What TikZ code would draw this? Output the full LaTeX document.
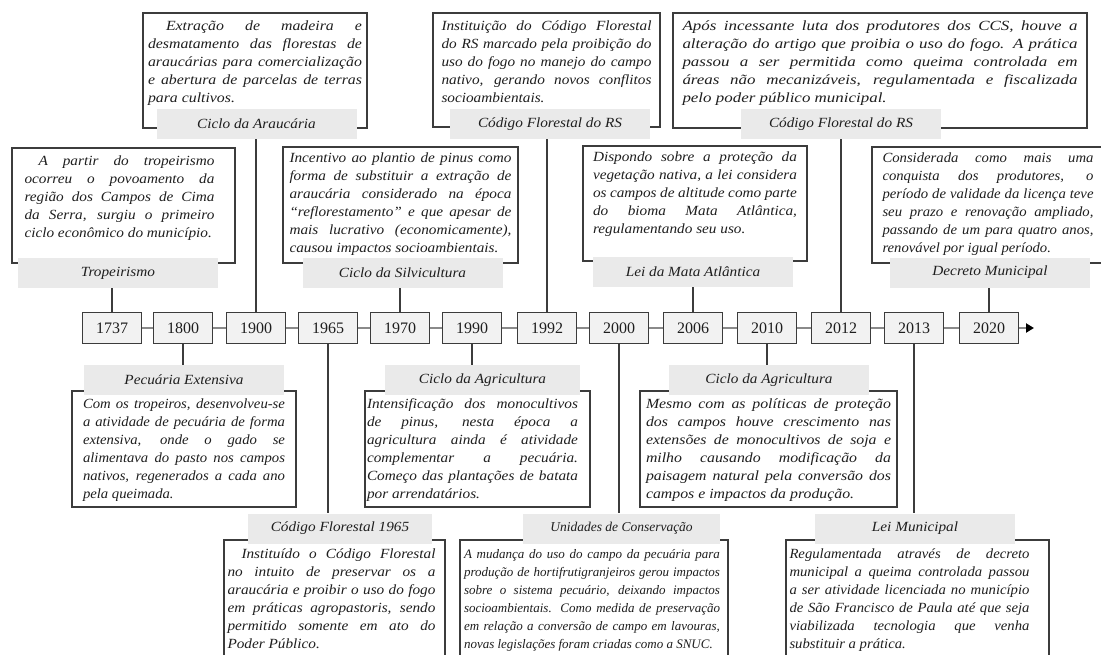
\documentclass[tikz,border=0pt]{standalone}
\usepackage{fontspec}
\setmainfont{Liberation Serif}
\newfontfamily\notefont[FakeStretch=1.09]{Liberation Serif}
\newfontfamily\notefontwide[FakeStretch=1.21]{Liberation Serif}
\newfontfamily\notefontbroad[FakeStretch=1.13]{Liberation Serif}
\newfontfamily\notefontmid[FakeStretch=1.05]{Liberation Serif}
\newfontfamily\notefontplain{Liberation Serif}
\usetikzlibrary{arrows.meta,positioning}
\definecolor{ink}{HTML}{1E1E1E}
\definecolor{frame}{HTML}{3C3C3C}
\definecolor{tagfill}{HTML}{EAEAEA}
\definecolor{yearfill}{HTML}{F2F2F2}
\definecolor{link}{HTML}{8A8A8A}
\tikzset{
  yearbox/.style={rectangle,draw=frame,line width=1.2pt,fill=yearfill,text=ink,
    font=\fontsize{16}{18}\selectfont,minimum width=59pt,minimum height=31pt,inner sep=0pt},
  notebox/.style={rectangle,draw=frame,line width=1.3pt,fill=white,inner sep=0pt},
  notetext/.style={text=ink,align=justify,inner sep=0pt,anchor=north,
    font=\fontsize{14}{18}\selectfont\notefont\itshape,
    execute at begin node=\rule{0pt}{14pt}},
  tagbox/.style={rectangle,fill=tagfill,text=ink,inner sep=0pt,
    minimum width=200pt,minimum height=30pt,
    font=\fontsize{14}{18}\selectfont\notefont\itshape},
  tlline/.style={line width=1.1pt,color=frame},
  tllink/.style={line width=2.6pt,color=link},
  tlarr/.style={-{Triangle[length=8pt,width=9pt,color=black]},line width=2.6pt,color=link},
}

\begin{document}
\begin{tikzpicture}[x=1pt,y=-1pt]
  \useasboundingbox (0,0) rectangle (1101,654);
  \fill[white] (0,0) rectangle (1101,654);
  \clip (0,0) rectangle (1101,654);

  % timeline
  \node[yearbox] (y1737) at (112,328) {1737};
  \node[yearbox] (y1800) at (183,328) {1800};
  \node[yearbox] (y1900) at (256,328) {1900};
  \node[yearbox] (y1965) at (328,328) {1965};
  \node[yearbox] (y1970) at (400,328) {1970};
  \node[yearbox] (y1990) at (472,328) {1990};
  \node[yearbox] (y1992) at (547,328) {1992};
  \node[yearbox] (y2000) at (619,328) {2000};
  \node[yearbox] (y2006) at (693,328) {2006};
  \node[yearbox] (y2010) at (767,328) {2010};
  \node[yearbox] (y2012) at (841,328) {2012};
  \node[yearbox] (y2013) at (914,328) {2013};
  \node[yearbox] (y2020) at (989,328) {2020};
  \draw[tllink] (y1737) -- (y1800) (y1800) -- (y1900) (y1900) -- (y1965)
    (y1965) -- (y1970) (y1970) -- (y1990) (y1990) -- (y1992) (y1992) -- (y2000)
    (y2000) -- (y2006) (y2006) -- (y2010) (y2010) -- (y2012) (y2012) -- (y2013)
    (y2013) -- (y2020);
  \coordinate (tlend) at (1034,328);
  \draw[tlarr] (y2020) -- (tlend);

  % upper row
  \node[notebox,minimum width=224pt,minimum height=115pt] (boxAra) at (255,70.5) {};
  \node[notetext,text width=214pt,below=4pt of boxAra.north,
    font=\fontsize{14}{18}\selectfont\notefontbroad\itshape] (txtAra)
    {\hspace*{18pt}Extração de madeira e\linebreak desmatamento das florestas de\linebreak araucárias para comercialização\linebreak e abertura de parcelas de terras\linebreak para cultivos.};
  \node[tagbox] (tagAra) at (256.5,124) {Ciclo da Araucária};

  \node[notebox,minimum width=227pt,minimum height=114pt] (boxRS) at (546.5,70) {};
  \node[notetext,text width=210pt,below=4pt of boxRS.north] (txtRS)
    {Instituição do Código Florestal\linebreak do RS marcado pela proibição do\linebreak uso do fogo no manejo do campo\linebreak nativo, gerando novos conflitos\linebreak socioambientais.};
  \node[tagbox] (tagRS) at (550,124) {Código Florestal do RS};

  \node[notebox,minimum width=414pt,minimum height=115pt] (boxRSb) at (880,70.5) {};
  \node[notetext,text width=395pt,below=4pt of boxRSb.north,
    font=\fontsize{14}{18}\selectfont\notefontwide\itshape] (txtRSb)
    {Após incessante luta dos produtores dos CCS, houve a\linebreak alteração do artigo que proibia o uso do fogo. A prática\linebreak passou a ser permitida como queima controlada em\linebreak áreas não mecanizáveis, regulamentada e fiscalizada\linebreak pelo poder público municipal.};
  \node[tagbox] (tagRSb) at (841,124) {Código Florestal do RS};

  % middle upper row
  \node[notebox,minimum width=223pt,minimum height=115pt] (boxTrop) at (123.5,205.5) {};
  \node[notetext,text width=190pt,below=4pt of boxTrop.north,xshift=-4pt] (txtTrop)
    {\hspace*{14pt}A partir do tropeirismo\linebreak ocorreu o povoamento da\linebreak região dos Campos de Cima\linebreak da Serra, surgiu o primeiro\linebreak ciclo econômico do município.};
  \node[tagbox] (tagTrop) at (118,273) {Tropeirismo};

  \node[notebox,minimum width=235pt,minimum height=116pt] (boxSilv) at (400.5,205) {};
  \node[notetext,text width=222pt,below=2pt of boxSilv.north] (txtSilv)
    {Incentivo ao plantio de pinus como\linebreak forma de substituir a extração de\linebreak araucária considerado na época\linebreak “reflorestamento” e que apesar de\linebreak mais lucrativo (economicamente),\linebreak causou impactos socioambientais.};
  \node[tagbox] (tagSilv) at (402.5,272.5) {Ciclo da Silvicultura};

  \node[notebox,minimum width=224pt,minimum height=115pt] (boxMata) at (695,203.5) {};
  \node[notetext,text width=204pt,below=2pt of boxMata.north] (txtMata)
    {Dispondo sobre a proteção da\linebreak vegetação nativa, a lei considera\linebreak os campos de altitude como parte\linebreak do bioma Mata Atlântica,\linebreak regulamentando seu uso.};
  \node[tagbox] (tagMata) at (693,272) {Lei da Mata Atlântica};

  \node[notebox,minimum width=232pt,minimum height=116pt] (boxDec) at (988,205) {};
  \node[notetext,text width=211pt,below=2pt of boxDec.north,
    font=\fontsize{14}{18}\selectfont\notefontmid\itshape] (txtDec)
    {Considerada como mais uma\linebreak conquista dos produtores, o\linebreak período de validade da licença teve\linebreak seu prazo e renovação ampliado,\linebreak passando de um para quatro anos,\linebreak renovável por igual período.};
  \node[tagbox] (tagDec) at (990,272.5) {Decreto Municipal};

  % lower row
  \node[notebox,minimum width=224pt,minimum height=116pt] (boxPec) at (184,449) {};
  \node[notetext,text width=202pt,below=4pt of boxPec.north,
    font=\fontsize{14}{18}\selectfont\notefontmid\itshape] (txtPec)
    {Com os tropeiros, desenvolveu-se\linebreak a atividade de pecuária de forma\linebreak extensiva, onde o gado se\linebreak alimentava do pasto nos campos\linebreak nativos, regenerados a cada ano\linebreak pela queimada.};
  \node[tagbox] (tagPec) at (184,380) {Pecuária Extensiva};

  \node[notebox,minimum width=225pt,minimum height=116pt] (boxAgr) at (477.5,449) {};
  \node[notetext,text width=211pt,below=4pt of boxAgr.north,xshift=-5pt] (txtAgr)
    {Intensificação dos monocultivos\linebreak de pinus, nesta época a\linebreak agricultura ainda é atividade\linebreak complementar a pecuária.\linebreak Começo das plantações de batata\linebreak por arrendatários.};
  \node[tagbox,minimum width=195pt] (tagAgr) at (482.5,380) {Ciclo da Agricultura};

  \node[notebox,minimum width=257pt,minimum height=116pt] (boxAgrb) at (768.5,449) {};
  \node[notetext,text width=245pt,below=4pt of boxAgrb.north,
    font=\fontsize{14}{18}\selectfont\notefontbroad\itshape] (txtAgrb)
    {Mesmo com as políticas de proteção\linebreak dos campos houve crescimento nas\linebreak extensões de monocultivos de soja e\linebreak milho causando modificação da\linebreak paisagem natural pela conversão dos\linebreak campos e impactos da produção.};
  \node[tagbox] (tagAgrb) at (769,380) {Ciclo da Agricultura};

  % bottom row
  \node[notebox,minimum width=221pt,minimum height=124pt] (boxCF) at (334.5,602) {};
  \node[notetext,text width=208pt,below=5pt of boxCF.north,xshift=-3pt] (txtCF)
    {\hspace*{14pt}Instituído o Código Florestal\linebreak no intuito de preservar os a\linebreak araucária e proibir o uso do fogo\linebreak em práticas agropastoris, sendo\linebreak permitido somente em ato do\linebreak Poder Público.};
  \node[tagbox,minimum width=184pt] (tagCF) at (340,528.5) {Código Florestal 1965};

  \node[notebox,minimum width=268pt,minimum height=124pt] (boxUC) at (594,602) {};
  \node[notetext,text width=256pt,below=5pt of boxUC.north,xshift=-2pt,
    font=\fontsize{13}{18}\selectfont\notefontplain\itshape] (txtUC)
    {A mudança do uso do campo da pecuária para\linebreak produção de hortifrutigranjeiros gerou impactos\linebreak sobre o sistema pecuário, deixando impactos\linebreak socioambientais. Como medida de preservação\linebreak em relação a conversão de campo em lavouras,\linebreak novas legislações foram criadas como a SNUC.};
  \node[tagbox,minimum width=197pt,font=\fontsize{13.5}{18}\selectfont\notefontplain\itshape] (tagUC) at (621.5,528.5) {Unidades de Conservação};

  \node[notebox,minimum width=263pt,minimum height=124pt] (boxLM) at (917.5,602) {};
  \node[notetext,text width=240pt,below=5pt of boxLM.north,xshift=-8pt,
    font=\fontsize{14}{18}\selectfont\notefontmid\itshape] (txtLM)
    {Regulamentada através de decreto\linebreak municipal a queima controlada passou\linebreak a ser atividade licenciada no município\linebreak de São Francisco de Paula até que seja\linebreak viabilizada tecnologia que venha\linebreak substituir a prática.};
  \node[tagbox] (tagLM) at (915,528.5) {Lei Municipal};

  % connectors
  \draw[tlline] (y1900.north) -- (y1900.north |- tagAra.south);
  \draw[tlline] (y1992.north) -- (y1992.north |- tagRS.south);
  \draw[tlline] (y2012.north) -- (y2012.north |- tagRSb.south);
  \draw[tlline] (y1737.north) -- (y1737.north |- tagTrop.south);
  \draw[tlline] (y1970.north) -- (y1970.north |- tagSilv.south);
  \draw[tlline] (y2006.north) -- (y2006.north |- tagMata.south);
  \draw[tlline] (y2020.north) -- (y2020.north |- tagDec.south);
  \draw[tlline] (y1800.south) -- (y1800.south |- tagPec.north);
  \draw[tlline] (y1990.south) -- (y1990.south |- tagAgr.north);
  \draw[tlline] (y2010.south) -- (y2010.south |- tagAgrb.north);
  \draw[tlline] (y1965.south) -- (y1965.south |- tagCF.north);
  \draw[tlline] (y2000.south) -- (y2000.south |- tagUC.north);
  \draw[tlline] (y2013.south) -- (y2013.south |- tagLM.north);
\end{tikzpicture}
\end{document}
